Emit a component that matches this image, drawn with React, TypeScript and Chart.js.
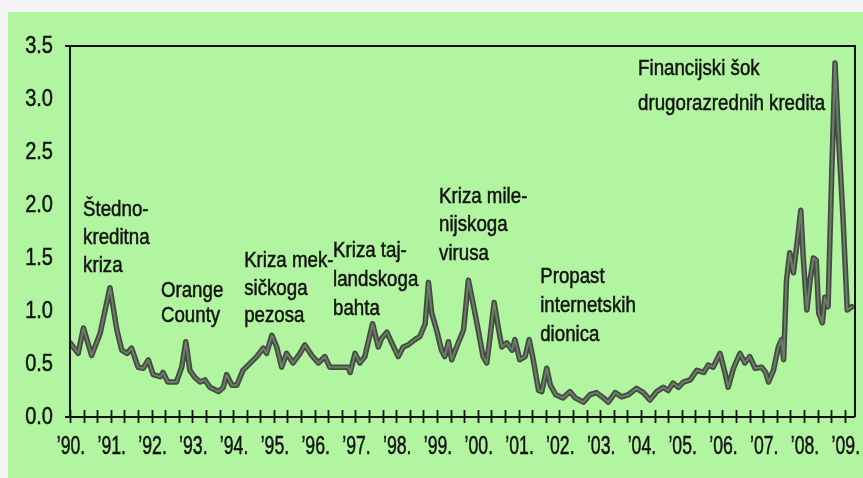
import React, { useEffect, useRef } from "react";
import { Chart, registerables } from "chart.js";

Chart.register(...registerables);

// ---- data (decimal years, spread values) ----
const dates = [
  1990.0, 1990.2, 1990.33, 1990.53, 1990.74, 1990.98,
  1991.15, 1991.27, 1991.4, 1991.51, 1991.67, 1991.8, 1991.92,
  1992.04, 1992.21, 1992.28, 1992.4, 1992.61, 1992.74, 1992.84, 1992.94,
  1993.07, 1993.19, 1993.31, 1993.43, 1993.64, 1993.76, 1993.84, 1993.97,
  1994.09, 1994.24, 1994.45, 1994.58, 1994.74, 1994.82, 1994.95,
  1995.07, 1995.19, 1995.31, 1995.47, 1995.64, 1995.76, 1995.93,
  1996.09, 1996.25, 1996.37, 1996.62, 1996.82, 1996.87, 1996.99,
  1997.11, 1997.23, 1997.42, 1997.56, 1997.64, 1997.77, 1997.89,
  1998.05, 1998.17, 1998.29, 1998.46, 1998.58, 1998.71, 1998.79, 1998.87, 1998.99,
  1999.11, 1999.19, 1999.28, 1999.36, 1999.48, 1999.65, 1999.77, 1999.9,
  2000.01, 2000.13, 2000.22, 2000.3, 2000.4, 2000.5, 2000.59, 2000.71, 2000.84, 2000.91,
  2001.03, 2001.16, 2001.26, 2001.36, 2001.49, 2001.57, 2001.69, 2001.78, 2001.91,
  2002.09, 2002.26, 2002.39, 2002.59, 2002.75, 2002.91,
  2003.08, 2003.2, 2003.37, 2003.53, 2003.69, 2003.89,
  2004.06, 2004.22, 2004.39, 2004.55, 2004.67, 2004.79, 2004.92,
  2005.04, 2005.21, 2005.37, 2005.54, 2005.65, 2005.77, 2005.94,
  2006.06, 2006.14, 2006.27, 2006.43, 2006.55, 2006.67, 2006.8, 2006.96,
  2007.06, 2007.13, 2007.25, 2007.37, 2007.45, 2007.5, 2007.57, 2007.65, 2007.74, 2007.86, 2007.92, 2007.98,
  2008.07, 2008.15, 2008.23, 2008.3, 2008.36, 2008.45, 2008.51, 2008.59, 2008.68, 2008.76, 2008.84, 2008.95,
  2009.06, 2009.17,
];

const spreadValues = [
  0.7, 0.6, 0.84, 0.58, 0.79, 1.22,
  0.82, 0.63, 0.6, 0.65, 0.47, 0.46, 0.54,
  0.4, 0.38, 0.42, 0.33, 0.33, 0.47, 0.71, 0.44,
  0.37, 0.33, 0.35, 0.28, 0.24, 0.28, 0.4, 0.3,
  0.3, 0.44, 0.52, 0.57, 0.65, 0.6, 0.77,
  0.66, 0.47, 0.6, 0.51, 0.6, 0.68, 0.58,
  0.51, 0.57, 0.47, 0.47, 0.47, 0.42, 0.6,
  0.51, 0.57, 0.88, 0.66, 0.74, 0.8, 0.7,
  0.57, 0.66, 0.68, 0.73, 0.76, 0.88, 1.27, 0.98, 0.82,
  0.63, 0.57, 0.71, 0.54, 0.66, 0.82, 1.29, 1.04,
  0.82, 0.57, 0.51, 0.75, 1.08, 0.85, 0.66, 0.7, 0.63, 0.73,
  0.54, 0.57, 0.73, 0.54, 0.25, 0.24, 0.46, 0.3, 0.21,
  0.18, 0.24, 0.18, 0.14, 0.21, 0.23,
  0.18, 0.14, 0.23, 0.19, 0.21, 0.27,
  0.23, 0.16, 0.24, 0.28, 0.25, 0.32, 0.28,
  0.33, 0.35, 0.44, 0.42, 0.49, 0.47, 0.6,
  0.42, 0.28, 0.46, 0.6, 0.51, 0.57, 0.46, 0.47,
  0.42, 0.33, 0.44, 0.66, 0.73, 0.54, 1.29, 1.55, 1.36, 1.74, 1.95, 1.51,
  1.01, 1.29, 1.5, 1.48, 0.98, 0.89, 1.13, 1.04, 2.3, 3.34, 2.68, 1.92,
  1.01, 1.04,
];

const yearLabels = [
  "’90.", "’91.", "’92.", "’93.", "’94.", "’95.", "’96.", "’97.", "’98.", "’99.",
  "’00.", "’01.", "’02.", "’03.", "’04.", "’05.", "’06.", "’07.", "’08.", "’09.",
];
const firstYear = 1990;
const lastYear = 2009.25;

// annotation texts and their anchors (in data units: year, value of first baseline)
const annotationTexts = [
  ["Štedno-", "kreditna", "kriza"],
  ["Orange", "County"],
  ["Kriza mek-", "sičkoga", "pezosa"],
  ["Kriza taj-", "landskoga", "bahta"],
  ["Kriza mile-", "nijskoga", "virusa"],
  ["Propast", "internetskih", "dionica"],
  ["Financijski šok", "drugorazrednih kredita"],
];
const annotationYears = [1990.32, 1992.23, 1994.27, 1996.45, 1999.05, 2001.53, 2003.93];
const annotationValues = [1.896, 1.132, 1.415, 1.509, 2.019, 1.264, 3.226];
const annotationGaps = [28, 25, 27.5, 29, 28.5, 29, 35];

const FONT = "'Liberation Sans', Arial, sans-serif";
const INK = "#111111";

function drawNarrow(ctx: any, text: string, x: number, y: number, sx: number, align: string) {
  ctx.save();
  ctx.translate(x, y);
  ctx.scale(sx, 1);
  ctx.textAlign = align;
  ctx.lineWidth = 0.5;
  ctx.strokeStyle = INK;
  ctx.strokeText(text, 0, 0);
  ctx.fillText(text, 0, 0);
  ctx.restore();
}

const framePlugin = {
  id: "framePlugin",
  afterDraw(chart: any) {
    const { ctx, chartArea } = chart;
    const { left, right, top, bottom } = chartArea;
    const xs = chart.scales.x;
    const ys = chart.scales.y;
    ctx.save();
    ctx.strokeStyle = INK;
    ctx.lineWidth = 2;
    ctx.beginPath();
    ctx.moveTo(left - 5, top);
    ctx.lineTo(right, top);
    ctx.lineTo(right, bottom);
    ctx.moveTo(left, top);
    ctx.lineTo(left, bottom);
    ctx.moveTo(left - 5, bottom);
    ctx.lineTo(right, bottom);
    ctx.stroke();

    ctx.lineWidth = 1.8;
    ctx.beginPath();
    xs.ticks.forEach((_t: any, i: number) => {
      const px = Math.round(xs.getPixelForTick(i)) + 0.5;
      ctx.moveTo(px, bottom - 7);
      ctx.lineTo(px, bottom + 6);
    });
    ctx.stroke();

    ctx.fillStyle = INK;

    // x tick labels (from the x scale's ticks)
    ctx.font = `26px ${FONT}`;
    ctx.textBaseline = "middle";
    xs.ticks.forEach((t: any, i: number) => {
      if (!t.label) return;
      drawNarrow(ctx, String(t.label), xs.getPixelForTick(i) + 1, bottom + 30, 0.68, "center");
    });

    // y tick labels (from the y scale's ticks)
    ctx.font = `23px ${FONT}`;
    ys.ticks.forEach((t: any, i: number) => {
      drawNarrow(ctx, String(t.label), left - 17, ys.getPixelForTick(i) + 1, 0.87, "right");
    });

    // annotations
    ctx.font = `22px ${FONT}`;
    ctx.textBaseline = "alphabetic";
    annotationTexts.forEach((lines, k) => {
      const ax = xs.getPixelForValue(annotationYears[k]);
      const ay = ys.getPixelForValue(annotationValues[k]);
      lines.forEach((line, j) => {
        drawNarrow(ctx, line, ax, ay + j * annotationGaps[k], 0.85, "left");
      });
    });
    ctx.restore();
  },
};

export default function App() {
  const ref = useRef<HTMLCanvasElement>(null);

  useEffect(() => {
    document.body.style.overflow = "hidden";
    document.body.style.background = "#f3f3f3";
    const points = dates.map((d, i) => ({ x: d, y: spreadValues[i] }));
    const chart = new Chart(ref.current as HTMLCanvasElement, {
      type: "line",
      data: {
        datasets: [
          {
            data: points,
            borderColor: "#6f7b6b",
            borderWidth: 2,
            pointRadius: 0,
            tension: 0,
            borderJoinStyle: "round",
            borderCapStyle: "round",
          },
          {
            data: points,
            borderColor: "#414c3f",
            borderWidth: 5.5,
            pointRadius: 0,
            tension: 0,
            borderJoinStyle: "round",
            borderCapStyle: "round",
          },
        ],
      },
      options: {
        responsive: false,
        animation: false,
        layout: { padding: { top: 34, right: 8, left: 0, bottom: 0 } },
        plugins: {
          legend: { display: false },
          tooltip: { enabled: false },
        },
        scales: {
          x: {
            type: "linear",
            min: firstYear,
            max: lastYear,
            grid: { display: false, drawTicks: false },
            border: { display: false },
            afterBuildTicks: (scale: any) => {
              const t = [];
              for (let i = 0; i <= (yearLabels.length - 1) * 3; i++) {
                t.push({ value: firstYear + i / 3 });
              }
              scale.ticks = t;
            },
            afterFit: (scale: any) => {
              scale.height = 61;
            },
            ticks: {
              display: false,
              autoSkip: false,
              maxRotation: 0,
              minRotation: 0,
              callback: (value: any) => {
                const v = Number(value);
                const r = Math.round(v);
                if (Math.abs(v - r) < 1e-6) return yearLabels[r - firstYear];
                return "";
              },
            },
          },
          y: {
            type: "linear",
            min: 0,
            max: 3.5,
            grid: { display: false, drawTicks: false },
            border: { display: false },
            afterFit: (scale: any) => {
              scale.width = 62;
            },
            ticks: {
              display: false,
              stepSize: 0.5,
              callback: (value: any) => Number(value).toFixed(1),
            },
          },
        },
      },
      plugins: [framePlugin],
    });
    return () => chart.destroy();
  }, []);

  return (
    <div
      style={{
        position: "absolute",
        left: 8,
        top: 12,
        width: 855,
        height: 466,
        background: "#b2f5a0",
      }}
    >
      <canvas ref={ref} width={855} height={466} style={{ display: "block" }} />
    </div>
  );
}
